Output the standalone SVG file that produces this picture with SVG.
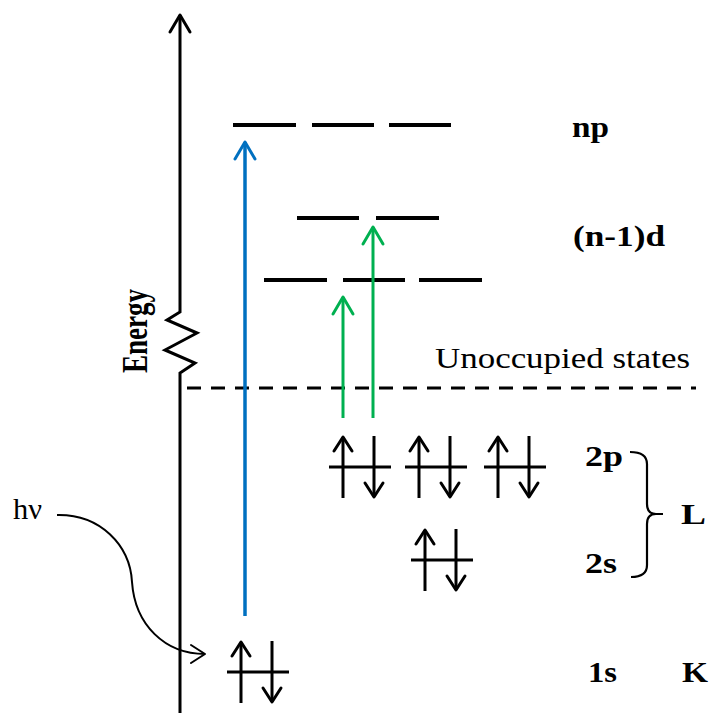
<svg xmlns="http://www.w3.org/2000/svg" width="710" height="713" viewBox="0 0 710 713">
<style>
.ln{stroke:#000;stroke-width:3;fill:none}
.lvl{stroke:#000;stroke-width:4;fill:none}
.spin{stroke:#000;stroke-width:3;fill:none}
text{font-family:'Liberation Serif','Times New Roman',Times,serif;fill:#000}
.lab{font-weight:bold;font-size:30px}
.reg{font-weight:normal;font-size:29px}
</style>
<defs>
<marker id="ahK" viewBox="0 0 20 22" refX="18" refY="11" markerWidth="20" markerHeight="22" markerUnits="userSpaceOnUse" orient="auto" overflow="visible">
<path d="M1,1 L18,11 L1,21" fill="none" stroke="#000" stroke-width="3" stroke-linecap="round" stroke-linejoin="round"/>
</marker>
<marker id="ahB" viewBox="0 0 20 22" refX="18" refY="11" markerWidth="20" markerHeight="22" markerUnits="userSpaceOnUse" orient="auto" overflow="visible">
<path d="M1,1 L18,11 L1,21" fill="none" stroke="#0070C0" stroke-width="3" stroke-linecap="round" stroke-linejoin="round"/>
</marker>
<marker id="ahG" viewBox="0 0 20 22" refX="18" refY="11" markerWidth="20" markerHeight="22" markerUnits="userSpaceOnUse" orient="auto" overflow="visible">
<path d="M1,1 L18,11 L1,21" fill="none" stroke="#00B050" stroke-width="3" stroke-linecap="round" stroke-linejoin="round"/>
</marker>
<marker id="ahS" viewBox="0 0 16 20" refX="15" refY="10" markerWidth="16" markerHeight="20" markerUnits="userSpaceOnUse" orient="auto" overflow="visible">
<path d="M1,1 L15,10 L1,19" fill="none" stroke="#000" stroke-width="3" stroke-linecap="round" stroke-linejoin="round"/>
</marker>
<marker id="ahC" viewBox="0 0 16 20" refX="15" refY="10" markerWidth="16" markerHeight="20" markerUnits="userSpaceOnUse" orient="auto" overflow="visible">
<path d="M1,1 L15,10 L1,19" fill="none" stroke="#000" stroke-width="2" stroke-linecap="round" stroke-linejoin="round"/>
</marker>
<g id="pair">
<line class="spin" x1="-14" y1="0" x2="48" y2="0"/>
<line class="spin" x1="0" y1="31" x2="0" y2="-30" marker-end="url(#ahS)"/>
<line class="spin" x1="31" y1="-31" x2="31" y2="30" marker-end="url(#ahS)"/>
</g>
</defs>

<g id="axis">
<path class="ln" d="M180,713 L180,373 L195,363 L165,350 L197,333 L167,320 L180,312 L180,15" marker-end="url(#ahK)"/>
<text transform="translate(147,331) rotate(-90) scale(1,1.2)" text-anchor="middle" class="lab" textLength="84" lengthAdjust="spacingAndGlyphs">Energy</text>
</g>

<g id="unoccupied">
<line x1="187" y1="388" x2="696" y2="388" stroke="#000" stroke-width="3" stroke-dasharray="14 10"/>
<text x="435" y="368" class="reg" textLength="255" lengthAdjust="spacingAndGlyphs">Unoccupied  states</text>
</g>

<g id="level-np">
<line class="lvl" x1="233" y1="125" x2="296" y2="125"/>
<line class="lvl" x1="312" y1="125" x2="374" y2="125"/>
<line class="lvl" x1="389" y1="125" x2="451" y2="125"/>
<text x="572" y="137" class="lab" textLength="37" lengthAdjust="spacingAndGlyphs">np</text>
</g>

<g id="level-d">
<line class="lvl" x1="297" y1="218" x2="359" y2="218"/>
<line class="lvl" x1="376" y1="218" x2="439" y2="218"/>
<line class="lvl" x1="264" y1="280" x2="327" y2="280"/>
<line class="lvl" x1="343" y1="280" x2="405" y2="280"/>
<line class="lvl" x1="419" y1="280" x2="482" y2="280"/>
<text x="573" y="246" class="lab" textLength="92" lengthAdjust="spacingAndGlyphs">(n-1)d</text>
</g>

<g id="level-2p">
<use href="#pair" x="343" y="467"/>
<use href="#pair" x="419" y="467"/>
<use href="#pair" x="498" y="467"/>
<text x="585" y="466" class="lab" textLength="38" lengthAdjust="spacingAndGlyphs">2p</text>
</g>

<g id="level-2s">
<use href="#pair" x="425" y="560"/>
<text x="585" y="573" class="lab" textLength="32" lengthAdjust="spacingAndGlyphs">2s</text>
</g>

<g id="shell-L">
<path d="M630,452 Q647,452 647,464 L647,504 Q647,514 656,514 L663,514 M656,514 Q647,514 647,524 L647,565 Q647,577 631,577" fill="none" stroke="#000" stroke-width="2.2"/>
<text x="681" y="524" class="lab" textLength="25" lengthAdjust="spacingAndGlyphs">L</text>
</g>

<g id="level-1s">
<use href="#pair" x="241" y="672"/>
<text x="588" y="682" class="lab" textLength="29" lengthAdjust="spacingAndGlyphs">1s</text>
<text x="682" y="682" class="lab" textLength="26" lengthAdjust="spacingAndGlyphs">K</text>
</g>

<g id="photon">
<text x="13" y="519" class="reg" textLength="29" lengthAdjust="spacingAndGlyphs">hν</text>
</g>

<g id="connectors">
<line x1="245" y1="616" x2="245" y2="142" stroke="#0070C0" stroke-width="3.5" marker-end="url(#ahB)"/>
<line x1="343" y1="418" x2="343" y2="297" stroke="#00B050" stroke-width="3" marker-end="url(#ahG)"/>
<line x1="373" y1="418" x2="373" y2="227" stroke="#00B050" stroke-width="3" marker-end="url(#ahG)"/>
<path d="M57,515 C100,514 130,545 132,582 C135,625 165,654 205,654" fill="none" stroke="#000" stroke-width="2" marker-end="url(#ahC)"/>
</g>
</svg>
